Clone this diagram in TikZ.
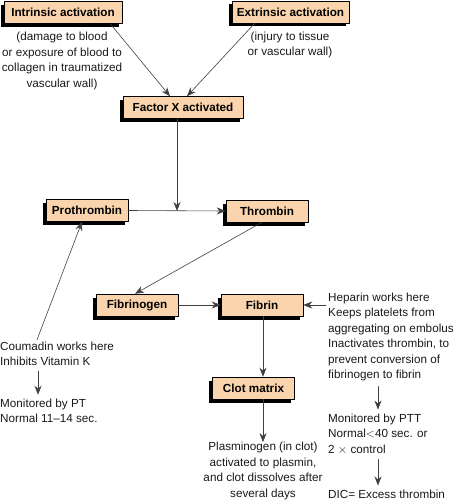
\documentclass[tikz,border=0pt]{standalone}
\usepackage{fontspec}
\setmainfont{Liberation Sans}
\usepackage{tikz}
\usetikzlibrary{arrows.meta,shadows}

\definecolor{pesca}{RGB}{249,212,172}
\newcommand{\corpo}{\fontsize{11.7}{15.5}\selectfont}

\begin{document}
\begin{tikzpicture}[
    x=1pt,
    y=-1pt,
    >={Stealth[length=9pt,width=7pt]},
    line cap=round,
    line join=round,
    box/.style={draw=black, line width=0.5pt, fill=pesca,
        font=\corpo\bfseries, minimum height=22pt, minimum width=82pt,
        inner xsep=2pt, inner ysep=0pt,
        drop shadow={shadow xshift=-3.5pt, shadow yshift=-3.5pt,
            opacity=1, fill=black}},
    testo/.style={font=\corpo, text=black!90, inner sep=0pt},
    freccia/.style={->, draw=black!75, line width=0.6pt}
]

% Cornice
\useasboundingbox (0,0) rectangle (455,500);

% Riquadri
\node[box, minimum width=118pt] (intr)  at (63,12.5)   {Intrinsic activation};
\node[box, minimum width=117pt] (extr)  at (290.5,12)  {Extrinsic activation};
\node[box, minimum width=120pt] (factx) at (183,107.5) {Factor X activated};
\node[box] (prot)  at (87,210.5)  {Prothrombin};
\node[box] (thr)   at (267,211)   {Thrombin};
\node[box] (fibg)  at (137,305)   {Fibrinogen};
\node[box] (fib)   at (262,305)   {Fibrin};
\node[box] (clot)  at (253.5,388) {Clot matrix};

% Testi
\node[testo, align=center] (intrnote) at (62,61)
    {(damage to blood\\or exposure of blood to\\collagen in traumatized\\vascular wall)};
\node[testo, align=center] (extrnote) at (290,45)
    {(injury to tissue\\or vascular wall)};
\node[testo, align=left, anchor=west] (hep) at (328,337)
    {Heparin works here\\Keeps platelets from\\aggregating on embolus\\Inactivates thrombin, to\\prevent conversion of\\fibrinogen to fibrin};
\node[testo, align=left, anchor=west] (ptt) at (328,434)
    {Monitored by PTT\\Normal${<}$40 sec. or\\2 $\times$ control};
\node[testo, anchor=west] (dic) at (328,494) {DIC= Excess thrombin};
\node[testo, align=center] (plas) at (263,471)
    {Plasminogen (in clot)\\activated to plasmin,\\and clot dissolves after\\several days};
\node[testo, align=left, anchor=west] (coum) at (0,354)
    {Coumadin works here\\Inhibits Vitamin K};
\node[testo, align=left, anchor=west] (pt) at (0,411)
    {Monitored by PT\\Normal 11--14 sec.};

% Frecce
\coordinate (join) at (177,211);
\draw[freccia] ([xshift=-12pt]intr.south east) -- ([xshift=-13pt]factx.north);
\draw[freccia] ([xshift=23pt]extr.south west) -- ([xshift=4pt]factx.north);
\draw[freccia] (factx.south -| join) -- (join);
\draw[freccia] (prot.east) -- (thr.west);
\draw[freccia] ([xshift=-5pt]thr.south) -- ([xshift=-2pt]fibg.north);
\draw[freccia] (fibg.east) -- (fib.east -| fib.west);
\draw[freccia] ([xshift=-2pt]hep.west |- fib.east) -- (fib.east);
\draw[freccia] ([xshift=1pt]fib.south) -- ([xshift=1pt]fib.south |- clot.north);
\draw[freccia] ([xshift=1pt]fib.south |- clot.south) -- ([xshift=1pt]fib.south |- plas.north);
\draw[freccia] ([xshift=50pt,yshift=-5pt]hep.south west) -- ([xshift=50pt,yshift=4pt]ptt.north west);
\draw[freccia] ([xshift=50pt,yshift=-5pt]ptt.south west) -- ([xshift=50pt,yshift=4pt]dic.north west);
\draw[freccia] ([xshift=37pt,yshift=2pt]coum.north west) -- ([xshift=-5pt]prot.south);
\draw[freccia] ([xshift=38pt,yshift=-5pt]coum.south west) -- ([xshift=38pt,yshift=4pt]pt.north west);

\end{tikzpicture}
\end{document}
